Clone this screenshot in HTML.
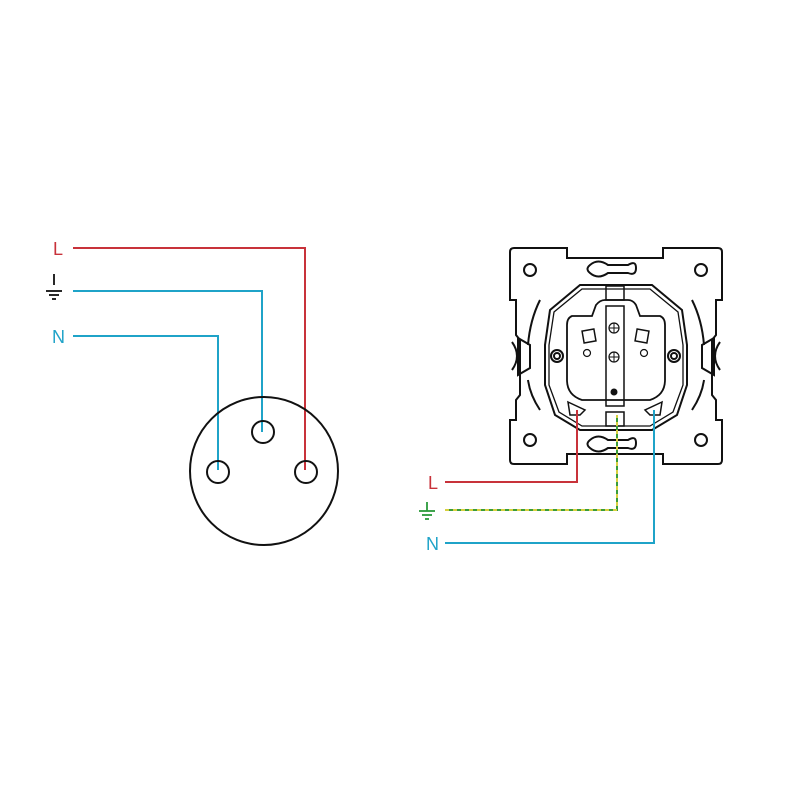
<!DOCTYPE html>
<html><head><meta charset="utf-8"><style>
html,body{margin:0;padding:0;background:#fff}
svg{display:block}
text{font-family:"Liberation Sans",sans-serif;font-size:18px}
</style></head><body>
<svg width="800" height="800" viewBox="0 0 800 800" xmlns="http://www.w3.org/2000/svg">
<rect width="800" height="800" fill="#fff"/>
<g fill="none" stroke-width="2">
<polyline points="73,248 305,248 305,470" stroke="#c8323a"/>
<polyline points="73,291 262,291 262,432" stroke="#1fa3c8"/>
<polyline points="73,336 218,336 218,470" stroke="#1fa3c8"/>
</g>
<g fill="none" stroke="#111" stroke-width="2">
<circle cx="264" cy="471" r="74"/>
<circle cx="263" cy="432" r="11"/>
<circle cx="218" cy="472" r="11"/>
<circle cx="306" cy="472" r="11"/>
</g>
<text x="53" y="255" fill="#c8323a">L</text>
<text x="52" y="343" fill="#1fa3c8">N</text>
<g stroke="#111" stroke-width="1.8">
<line x1="54" y1="274" x2="54" y2="285"/>
<line x1="46" y1="291" x2="62" y2="291"/>
<line x1="49" y1="295" x2="59" y2="295"/>
<line x1="52" y1="299" x2="56" y2="299"/>
</g>
<g fill="none" stroke="#111" stroke-width="2">
<path d="M514,248 H567 V258 H663 V248 H718 Q722,248 722,252 V300 H716 V335 L712,340 V395 L716,400 V420 H722 V460 Q722,464 718,464 H663 V454 H567 V464 H514 Q510,464 510,460 V420 H516 V400 L520,395 V340 L516,335 V300 H510 V252 Q510,248 514,248 Z"/>
<circle cx="530" cy="270" r="6"/><circle cx="701" cy="270" r="6"/>
<circle cx="530" cy="440" r="6"/><circle cx="701" cy="440" r="6"/>
<path d="M590,265 Q598,258 608,265 H628 Q636,260 636,268 Q636,276 628,273 H608 Q598,280 590,273 Q585,269 590,265 Z"/>
<path d="M590,440 Q598,433 608,440 H628 Q636,435 636,443 Q636,451 628,448 H608 Q598,455 590,448 Q585,444 590,440 Z"/>
<path d="M580,285 L550,310 L545,345 V385 L555,415 L580,430 H652 L677,415 L687,385 V345 L682,310 L652,285 Z"/>
<path d="M582,289 L554,312 L549,345 V385 L559,412 L582,426 H650 L673,412 L683,385 V345 L678,312 L650,289 Z" stroke-width="1.3"/>
<path d="M540,300 Q530,320 528,345" /><path d="M692,300 Q702,320 704,345"/>
<path d="M540,410 Q530,395 528,380"/><path d="M692,410 Q702,395 704,380"/>
<path d="M596,305 Q600,300 605,300 H628 Q633,300 636,305 L640,316 H660 Q665,318 665,325 V380 Q665,395 650,400 H582 Q567,395 567,380 V325 Q567,318 572,316 H592 Z" stroke-width="1.8"/>
<rect x="606" y="306" width="18" height="100" stroke-width="1.5"/>
<rect x="606" y="286" width="18" height="14" stroke-width="1.5"/>
<rect x="606" y="412" width="18" height="14" stroke-width="1.5"/>
<rect x="583" y="330" width="12" height="12" stroke-width="1.5" transform="rotate(-10 589 336)"/>
<rect x="636" y="330" width="12" height="12" stroke-width="1.5" transform="rotate(10 642 336)"/>
<circle cx="587" cy="353" r="3.5" stroke-width="1.2"/><circle cx="644" cy="353" r="3.5" stroke-width="1.2"/>
<circle cx="614" cy="328" r="5" stroke-width="1.2"/><path d="M609,328 H619 M614,323 V333" stroke-width="1"/>
<circle cx="614" cy="357" r="5" stroke-width="1.2"/><path d="M609,357 H619 M614,352 V362" stroke-width="1"/>
<circle cx="557" cy="356" r="6"/><circle cx="557" cy="356" r="3"/>
<circle cx="674" cy="356" r="6"/><circle cx="674" cy="356" r="3"/>
<path d="M518,338 L530,345 V368 L518,375 Z M512,342 Q522,356 512,370"/>
<path d="M714,338 L702,345 V368 L714,375 Z M720,342 Q710,356 720,370"/>
<path d="M568,402 L585,410 L580,415 H570 Z M662,402 L645,410 L650,415 H660 Z" stroke-width="1.5"/>
</g>
<circle cx="614" cy="392" r="3.5" fill="#111"/>
<g fill="none" stroke-width="2">
<polyline points="445,482 577,482 577,410" stroke="#c8323a"/>
<polyline points="445,543 654,543 654,410" stroke="#1fa3c8"/>
<polyline points="445,510 617,510 617,415" stroke="#3a9c3a"/>
<polyline points="445,510 617,510 617,415" stroke="#d8d040" stroke-dasharray="4,4"/>
</g>
<text x="428" y="489" fill="#c8323a">L</text>
<text x="426" y="550" fill="#1fa3c8">N</text>
<g stroke="#2a9a3a" stroke-width="1.8">
<line x1="427" y1="502" x2="427" y2="511"/>
<line x1="419" y1="511" x2="435" y2="511"/>
<line x1="422" y1="515" x2="432" y2="515"/>
<line x1="425" y1="519" x2="429" y2="519"/>
</g>
</svg>
</body></html>
